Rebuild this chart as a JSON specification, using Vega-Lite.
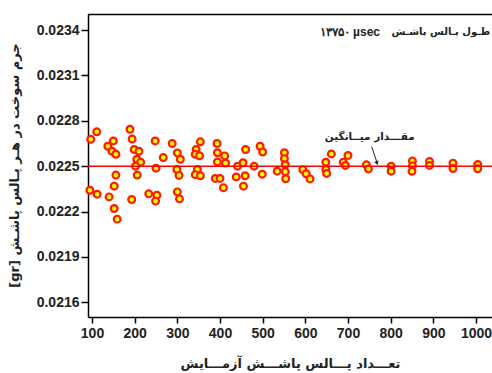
{
  "$schema": "https://vega.github.io/schema/vega-lite/v6.json",
  "autosize": "none",
  "width": 404,
  "height": 303,
  "padding": {"left": 88, "top": 14, "right": 0, "bottom": 56},
  "background": "white",
  "config": {
    "view": {"stroke": null},
    "axis": {
      "grid": false,
      "domainColor": "black",
      "domainWidth": 1.5,
      "tickColor": "black",
      "tickWidth": 1.5,
      "labelFont": "Liberation Sans",
      "labelFontWeight": "bold",
      "labelFontSize": 14,
      "labelColor": "#222222",
      "titleFont": "DejaVu Sans",
      "titleFontWeight": "bold",
      "titleColor": "#222222"
    }
  },
  "data": {
    "values": [
      {"n": 97, "m": 0.022678}, {"n": 111, "m": 0.022727}, {"n": 95, "m": 0.022341}, {"n": 112, "m": 0.022315},
      {"n": 137, "m": 0.022632}, {"n": 150, "m": 0.022667}, {"n": 147, "m": 0.022599}, {"n": 156, "m": 0.022579},
      {"n": 156, "m": 0.022441}, {"n": 152, "m": 0.022368}, {"n": 140, "m": 0.022297}, {"n": 152, "m": 0.02222},
      {"n": 159, "m": 0.02215},
      {"n": 189, "m": 0.022744}, {"n": 194, "m": 0.02268}, {"n": 199, "m": 0.02261}, {"n": 210, "m": 0.022599},
      {"n": 205, "m": 0.022546}, {"n": 214, "m": 0.022526}, {"n": 202, "m": 0.0225}, {"n": 206, "m": 0.022441},
      {"n": 193, "m": 0.02228},
      {"n": 248, "m": 0.022667}, {"n": 267, "m": 0.022557}, {"n": 250, "m": 0.022487}, {"n": 233, "m": 0.022317},
      {"n": 252, "m": 0.022308}, {"n": 249, "m": 0.022269},
      {"n": 288, "m": 0.02265}, {"n": 300, "m": 0.022588}, {"n": 307, "m": 0.022546}, {"n": 299, "m": 0.022478},
      {"n": 304, "m": 0.022439}, {"n": 300, "m": 0.02233}, {"n": 305, "m": 0.022284},
      {"n": 354, "m": 0.022661}, {"n": 344, "m": 0.02261}, {"n": 342, "m": 0.022579}, {"n": 352, "m": 0.022569},
      {"n": 347, "m": 0.022478}, {"n": 342, "m": 0.022444}, {"n": 354, "m": 0.022436},
      {"n": 393, "m": 0.02265}, {"n": 394, "m": 0.022589}, {"n": 411, "m": 0.022568}, {"n": 394, "m": 0.022528},
      {"n": 413, "m": 0.022521}, {"n": 389, "m": 0.022419}, {"n": 400, "m": 0.022419}, {"n": 408, "m": 0.022358},
      {"n": 441, "m": 0.0225}, {"n": 438, "m": 0.022429}, {"n": 454, "m": 0.022523}, {"n": 460, "m": 0.02261},
      {"n": 459, "m": 0.022437}, {"n": 455, "m": 0.022368},
      {"n": 480, "m": 0.0225}, {"n": 494, "m": 0.022632}, {"n": 500, "m": 0.022594}, {"n": 499, "m": 0.022447},
      {"n": 534, "m": 0.022467}, {"n": 551, "m": 0.022589}, {"n": 551, "m": 0.02255}, {"n": 553, "m": 0.02251},
      {"n": 553, "m": 0.022464}, {"n": 554, "m": 0.022417},
      {"n": 594, "m": 0.022477}, {"n": 602, "m": 0.02245}, {"n": 611, "m": 0.022416},
      {"n": 661, "m": 0.022581}, {"n": 648, "m": 0.022526}, {"n": 648, "m": 0.022478}, {"n": 650, "m": 0.022452},
      {"n": 700, "m": 0.022571}, {"n": 689, "m": 0.022526}, {"n": 694, "m": 0.022505},
      {"n": 743, "m": 0.022509}, {"n": 748, "m": 0.022482},
      {"n": 801, "m": 0.0225}, {"n": 801, "m": 0.022467},
      {"n": 851, "m": 0.022535}, {"n": 851, "m": 0.022502}, {"n": 850, "m": 0.022466},
      {"n": 891, "m": 0.022531}, {"n": 891, "m": 0.022505},
      {"n": 946, "m": 0.02252}, {"n": 946, "m": 0.022485},
      {"n": 1004, "m": 0.022511}, {"n": 1004, "m": 0.022483}
    ]
  },
  "layer": [
    {
      "mark": {"type": "point", "shape": "circle", "filled": true, "fill": "#ffff00", "stroke": "#ff1a00", "strokeWidth": 2.2, "size": 46, "opacity": 1},
      "encoding": {
        "x": {
          "field": "n", "type": "quantitative",
          "scale": {"domain": [90.6, 1037.5], "nice": false, "zero": false},
          "axis": {
            "title": "تعـــداد پـــالس پاشـــش آزمـــایش",
            "titleFontSize": 13,
            "titleY": 46,
            "titleBaseline": "middle",
            "values": [100, 150, 200, 250, 300, 350, 400, 450, 500, 550, 600, 650, 700, 750, 800, 850, 900, 950, 1000],
            "format": "d",
            "labelExpr": "datum.value % 100 == 0 ? datum.label : ''",
            "tickSize": {"condition": {"test": "datum.value % 100 != 0", "value": 3}, "value": 6},
            "labelPadding": 3,
            "labelFlush": false,
            "labelOverlap": false
          }
        },
        "y": {
          "field": "m", "type": "quantitative",
          "scale": {"domain": [0.021503, 0.023506], "nice": false, "zero": false},
          "axis": {
            "title": "[gr] جرم سوخت در هـر پـالس پاشـش",
            "titleFontSize": 13,
            "titleX": -74,
            "titleY": 151,
            "titleAngle": 270,
            "titleAlign": "center",
            "titleBaseline": "middle",
            "values": [0.0216, 0.02175, 0.0219, 0.02205, 0.0222, 0.02235, 0.0225, 0.02265, 0.0228, 0.02295, 0.0231, 0.02325, 0.0234],
            "labelExpr": "round(datum.value * 100000) % 30 == 0 ? format(datum.value, '.4f') : ''",
            "tickSize": {"condition": {"test": "round(datum.value * 100000) % 30 != 0", "value": 3.5}, "value": 7},
            "labelPadding": 2,
            "labelOverlap": false
          }
        }
      }
    },
    {
      "data": {"values": [{}]},
      "mark": {"type": "rule", "color": "#ff0000", "strokeWidth": 1.5},
      "encoding": {"y": {"datum": 0.0225, "type": "quantitative"}}
    },
    {
      "data": {"values": [{}]},
      "mark": {"type": "rule", "color": "black", "strokeWidth": 1.5},
      "encoding": {"y": {"datum": 0.023503, "type": "quantitative"}}
    },
    {
      "data": {"values": [{}]},
      "mark": {"type": "text", "font": "DejaVu Sans", "fontSize": 10.5, "fontWeight": "bold", "color": "#222222", "align": "center", "baseline": "middle"},
      "encoding": {
        "x": {"datum": 751, "type": "quantitative"},
        "y": {"datum": 0.022695, "type": "quantitative"},
        "text": {"value": "مقـــدار میــانگین"}
      }
    },
    {
      "data": {"values": [{}]},
      "mark": {"type": "rule", "color": "#222222", "strokeWidth": 1},
      "encoding": {
        "x": {"datum": 755.5, "type": "quantitative"},
        "y": {"datum": 0.022629, "type": "quantitative"},
        "x2": {"datum": 767.5},
        "y2": {"datum": 0.022528}
      }
    },
    {
      "data": {"values": [{}]},
      "mark": {"type": "point", "shape": "triangle-down", "filled": true, "color": "#222222", "size": 22, "angle": -19, "opacity": 1},
      "encoding": {
        "x": {"datum": 768, "type": "quantitative"},
        "y": {"datum": 0.02252, "type": "quantitative"}
      }
    },
    {
      "data": {"values": [{}]},
      "mark": {"type": "text", "font": "Liberation Sans", "fontSize": 12, "fontWeight": "bold", "color": "#222222", "align": "right", "baseline": "middle"},
      "encoding": {
        "x": {"datum": 775, "type": "quantitative"},
        "y": {"datum": 0.023387, "type": "quantitative"},
        "text": {"value": "۱۳۷۵۰ µsec"}
      }
    },
    {
      "data": {"values": [{}]},
      "mark": {"type": "text", "font": "DejaVu Sans", "fontSize": 10, "fontWeight": "bold", "color": "#222222", "align": "right", "baseline": "middle"},
      "encoding": {
        "x": {"datum": 1033, "type": "quantitative"},
        "y": {"datum": 0.023387, "type": "quantitative"},
        "text": {"value": "طـول پـالس پاشـش"}
      }
    }
  ]
}
